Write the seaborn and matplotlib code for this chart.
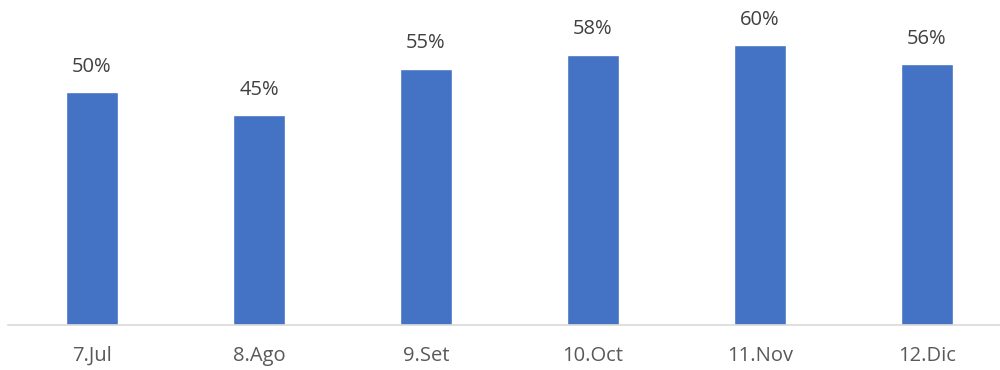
import matplotlib
matplotlib.use("Agg")
import matplotlib.pyplot as plt
import seaborn as sns
import pandas as pd

categories = ["7.Jul", "8.Ago", "9.Set", "10.Oct", "11.Nov", "12.Dic"]
values = [50, 45, 55, 58, 60, 56]
labels = ["50%", "45%", "55%", "58%", "60%", "56%"]

sns.set_theme(style="white")
plt.rcParams['font.family'] = ['Open Sans', 'DejaVu Sans']

df = pd.DataFrame({"cat": categories, "val": values})

fig = plt.figure(figsize=(10, 3.7), dpi=100)
ax = fig.add_axes([0.008, 45/370, 0.992, 325/370])
sns.barplot(data=df, x="cat", y="val", color="#4472C4", width=0.31,
            saturation=1, ax=ax)

ax.set_xlim(-0.503, 5.437)
ax.set_ylim(0, 69.7)
for i, (v, t) in enumerate(zip(values, labels)):
    ax.annotate(t, (i, v), xytext=(0, 11), textcoords="offset points",
                ha="center", va="bottom", fontsize=14.5, color="#404040")

ax.set_xlabel("")
ax.set_ylabel("")
ax.set_yticks([])
ax.tick_params(axis="x", length=0, labelsize=14.5, labelcolor="#595959", pad=15)
for s in ["top", "right", "left"]:
    ax.spines[s].set_visible(False)
ax.spines["bottom"].set_color("#D9D9D9")
ax.spines["bottom"].set_linewidth(1.2)

fig.savefig("out.png", dpi=100)
